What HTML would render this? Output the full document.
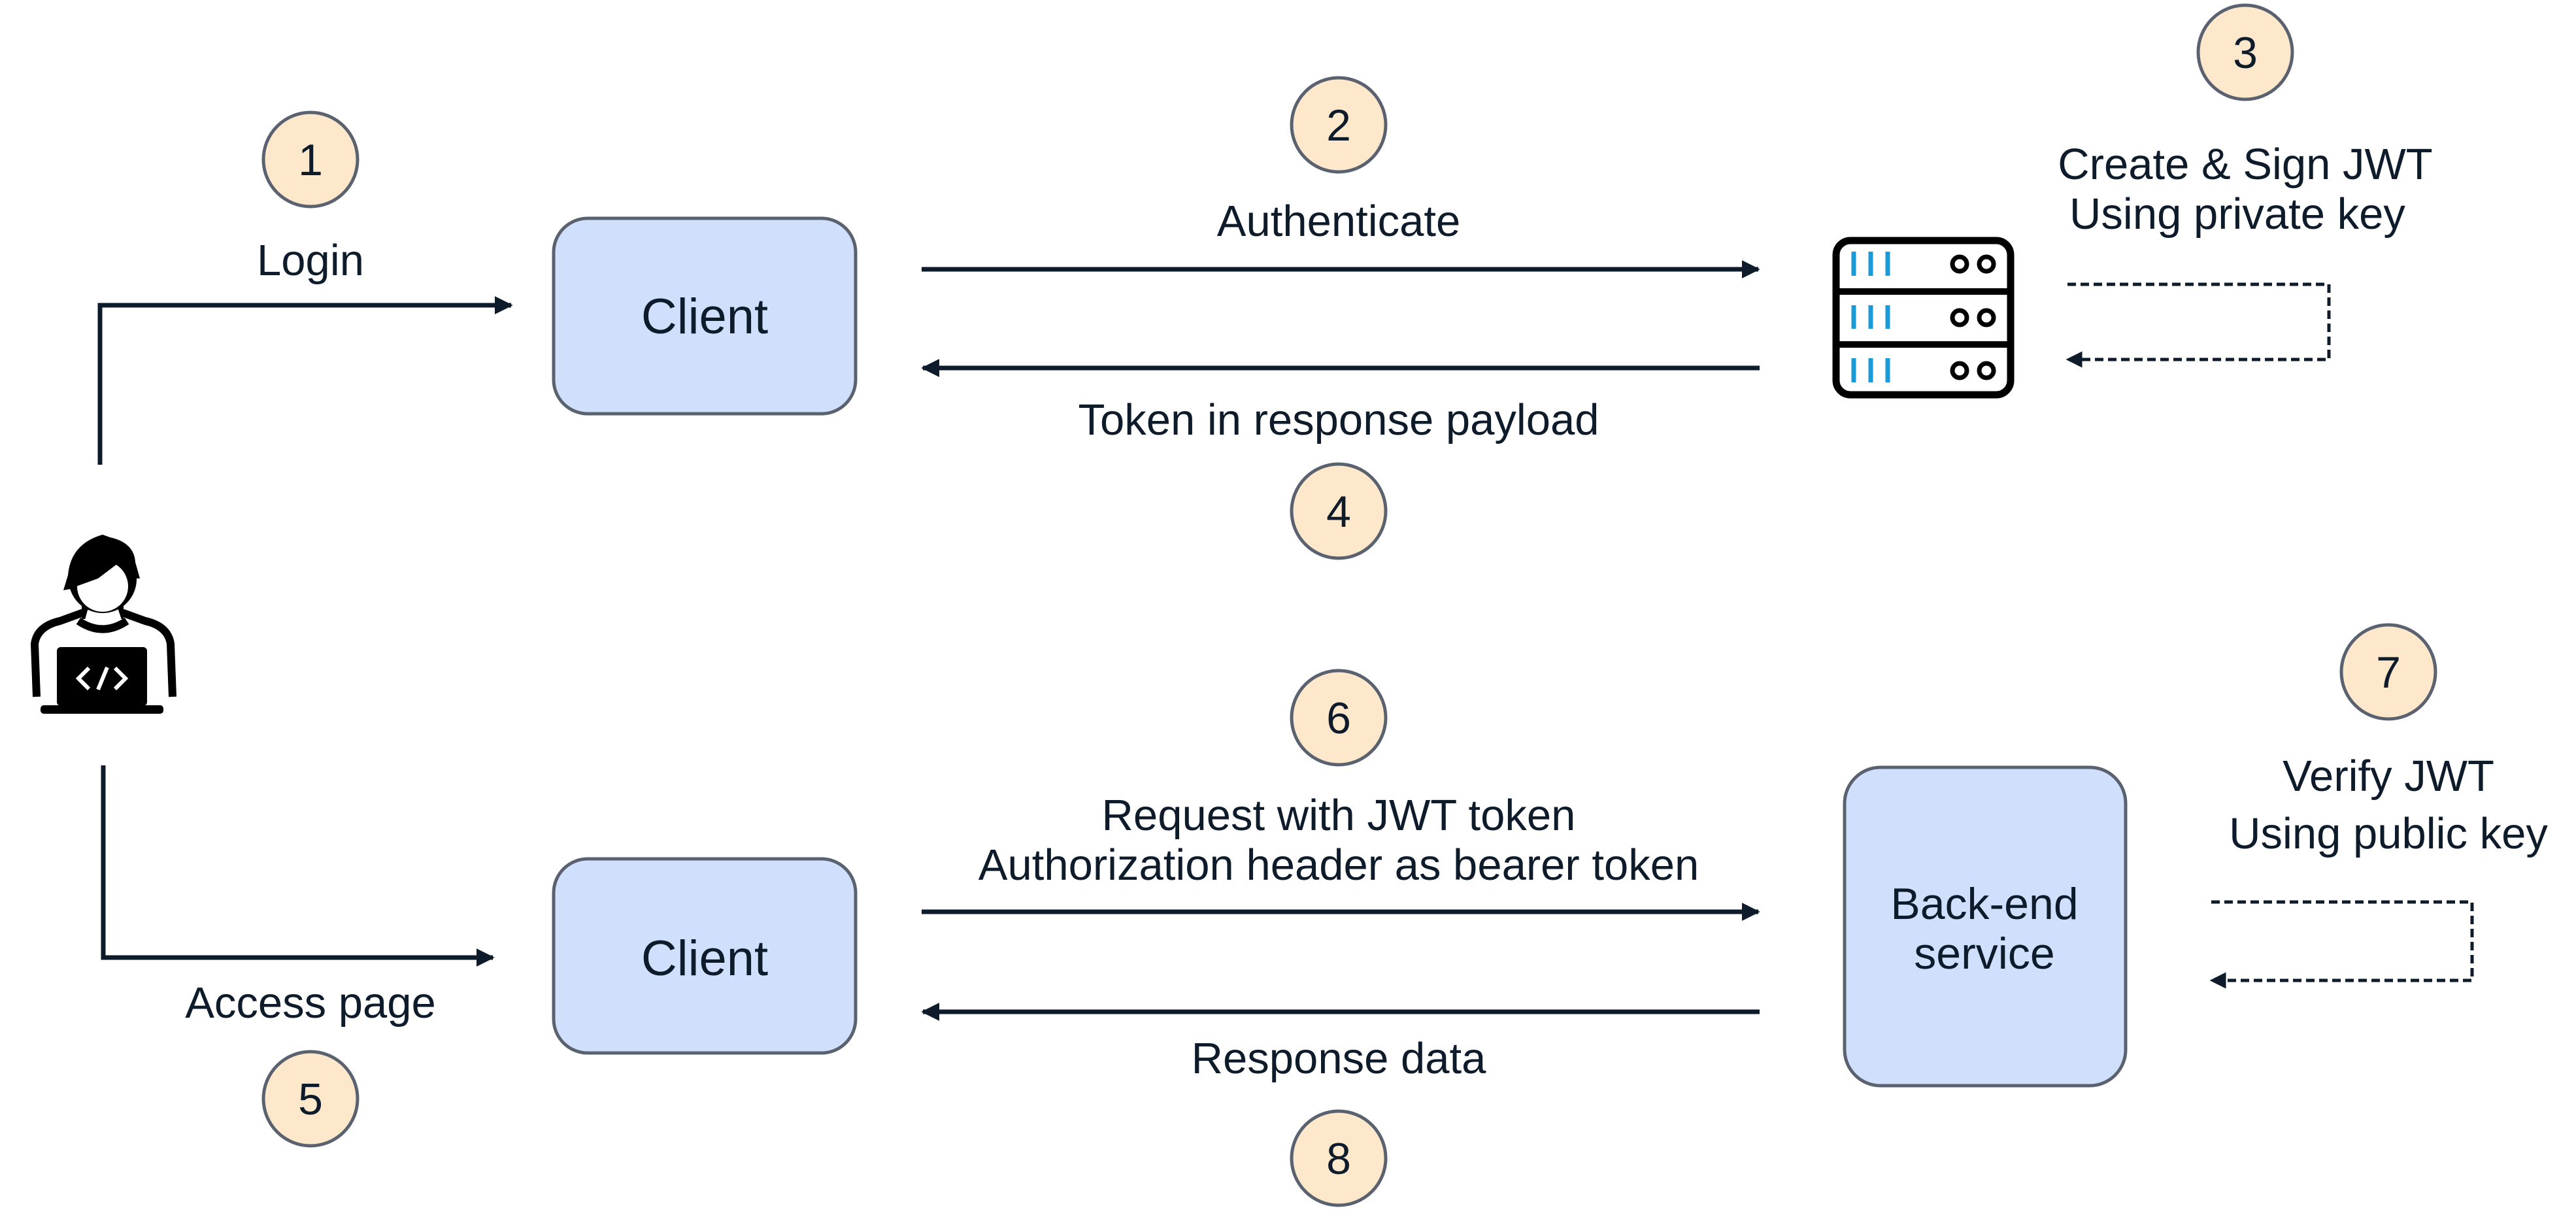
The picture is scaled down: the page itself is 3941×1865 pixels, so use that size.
<!DOCTYPE html>
<html><head><meta charset="utf-8"><style>
html,body{margin:0;padding:0;background:#fff;}
svg{display:block;}
text{font-family:"Liberation Sans",sans-serif;fill:#0d1b2a;}
</style></head><body>
<svg width="3941" height="1865" viewBox="0 0 3941 1865" xmlns="http://www.w3.org/2000/svg">
<defs>
<marker id="ah" viewBox="0 0 10 10" refX="9" refY="5" markerWidth="4" markerHeight="4.4" orient="auto" markerUnits="strokeWidth">
<path d="M0,0 L10,5 L0,10 z" fill="#0d1b2a"/></marker>
<marker id="ahd" viewBox="0 0 10 10" refX="9" refY="5" markerWidth="5" markerHeight="5" orient="auto" markerUnits="strokeWidth">
<path d="M0,0 L10,5 L0,10 z" fill="#0d1b2a"/></marker>
<clipPath id="faceclip"><polygon points="100,903 117,897 150,885 183,860 220,840 220,960 100,960"/></clipPath>
</defs>
<rect width="3941" height="1865" fill="#fff"/>

<!-- circles -->
<g fill="#fde8cc" stroke="#5a6270" stroke-width="5">
<circle cx="475" cy="244" r="72"/>
<circle cx="2048" cy="191" r="72"/>
<circle cx="3435" cy="80" r="72"/>
<circle cx="2048" cy="782" r="72"/>
<circle cx="475" cy="1681" r="72"/>
<circle cx="2048" cy="1098" r="72"/>
<circle cx="3654" cy="1028" r="72"/>
<circle cx="2048" cy="1772" r="72"/>
</g>
<g font-size="68" text-anchor="middle">
<text x="475" y="268">1</text>
<text x="2048" y="215">2</text>
<text x="3435" y="104">3</text>
<text x="2048" y="806">4</text>
<text x="475" y="1705">5</text>
<text x="2048" y="1122">6</text>
<text x="3654" y="1052">7</text>
<text x="2048" y="1796">8</text>
</g>

<!-- boxes -->
<g fill="#d0e0fc" stroke="#5a6270" stroke-width="5">
<rect x="847" y="334" width="462" height="299" rx="52"/>
<rect x="847" y="1314" width="462" height="297" rx="52"/>
<rect x="2822" y="1174" width="430" height="487" rx="55"/>
</g>
<g font-size="76" text-anchor="middle">
<text x="1078" y="510">Client</text>
<text x="1078" y="1492">Client</text>
</g>
<g font-size="68" text-anchor="middle">
<text x="3036" y="1406">Back-end</text>
<text x="3036" y="1482">service</text>
</g>

<!-- connectors -->
<g stroke="#0d1b2a" stroke-width="7" fill="none">
<path d="M153 711 L153 467 L782 467" marker-end="url(#ah)"/>
<path d="M158 1171 L158 1465 L754 1465" marker-end="url(#ah)"/>
<path d="M1410 412 L2690 412" marker-end="url(#ah)"/>
<path d="M2692 563 L1412 563" marker-end="url(#ah)"/>
<path d="M1410 1395 L2690 1395" marker-end="url(#ah)"/>
<path d="M2692 1548 L1412 1548" marker-end="url(#ah)"/>
</g>
<g stroke="#0d1b2a" stroke-width="5" fill="none" stroke-dasharray="13 7">
<path d="M3163 435 L3563 435 L3563 550 L3163 550" marker-end="url(#ahd)"/>
<path d="M3383 1380 L3782 1380 L3782 1500 L3383 1500" marker-end="url(#ahd)"/>
</g>

<!-- labels -->
<g font-size="67" text-anchor="middle">
<text x="475" y="421">Login</text>
<text x="2048" y="361">Authenticate</text>
<text x="2048" y="665">Token in response payload</text>
<text x="3435" y="274">Create &amp; Sign JWT</text>
<text x="3423" y="350">Using private key</text>
<text x="475" y="1557">Access page</text>
<text x="2048" y="1270">Request with JWT token</text>
<text x="2048" y="1346">Authorization header as bearer token</text>
<text x="2048" y="1642">Response data</text>
<text x="3654" y="1210">Verify JWT</text>
<text x="3654" y="1298">Using public key</text>
</g>

<!-- server icon -->
<g>
<rect x="2809" y="368" width="267" height="236" rx="22" fill="#fff" stroke="#000" stroke-width="11"/>
<line x1="2809" y1="446" x2="3076" y2="446" stroke="#000" stroke-width="10"/>
<line x1="2809" y1="527" x2="3076" y2="527" stroke="#000" stroke-width="10"/>
<g stroke="#1a9ad6" stroke-width="7">
<line x1="2836" y1="385" x2="2836" y2="422"/><line x1="2862" y1="385" x2="2862" y2="422"/><line x1="2888" y1="385" x2="2888" y2="422"/>
<line x1="2836" y1="467" x2="2836" y2="503"/><line x1="2862" y1="467" x2="2862" y2="503"/><line x1="2888" y1="467" x2="2888" y2="503"/>
<line x1="2836" y1="548" x2="2836" y2="585"/><line x1="2862" y1="548" x2="2862" y2="585"/><line x1="2888" y1="548" x2="2888" y2="585"/>
</g>
<g fill="none" stroke="#000" stroke-width="7">
<circle cx="2998" cy="404" r="11"/><circle cx="3039" cy="404" r="11"/>
<circle cx="2998" cy="486" r="11"/><circle cx="3039" cy="486" r="11"/>
<circle cx="2998" cy="567" r="11"/><circle cx="3039" cy="567" r="11"/>
</g>
</g>

<!-- person icon -->
<g>
<path d="M56 1066 L53 985 Q57 958 92 950 L125 938 L189 938 L222 950 Q257 958 261 985 L264 1066" fill="#fff" stroke="#000" stroke-width="12" stroke-linejoin="round"/>
<path d="M120 950 Q157 975 194 950" fill="none" stroke="#000" stroke-width="12"/>
<rect x="125" y="925" width="64" height="22" fill="#000"/>
<path d="M135 930 Q157 945 180 930 L186 948 Q157 958 130 948 z" fill="#fff"/>
<circle cx="157" cy="886" r="52" fill="#000"/>
<path d="M97 903 L104 880 Q108 832 157 818 L168 822 Q205 830 207 860 L214 885 L200 885 Z" fill="#000"/>
<circle cx="157" cy="897" r="39" fill="#fff" clip-path="url(#faceclip)"/>
<rect x="87" y="990" width="138" height="90" rx="6" fill="#000"/>
<rect x="62" y="1079" width="188" height="13" rx="5" fill="#000"/>
<g stroke="#fff" stroke-width="6" fill="none">
<path d="M136 1022 L120 1038 L136 1054"/>
<path d="M176 1022 L192 1038 L176 1054"/>
<path d="M164 1021 L150 1055"/>
</g>
</g>
</svg>
</body></html>
